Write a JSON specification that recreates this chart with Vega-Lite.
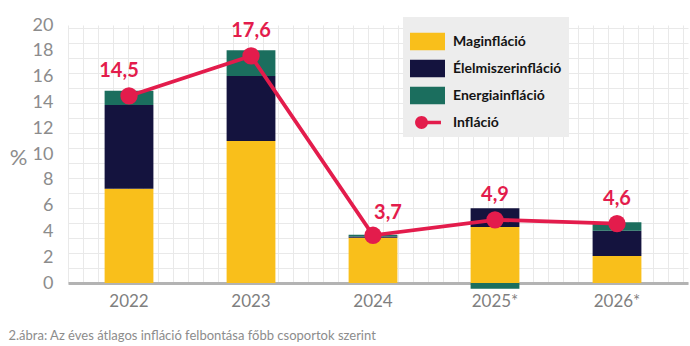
{
  "$schema": "https://vega.github.io/schema/vega-lite/v6.json",
  "width": 620,
  "height": 258,
  "autosize": {"type": "none"},
  "padding": {"left": 68, "top": 25, "right": 2, "bottom": 63},
  "background": "#ffffff",
  "config": {
    "view": {"stroke": null},
    "font": "Lato",
    "locale": {"number": {"decimal": ",", "thousands": " ", "grouping": [3], "currency": ["", " Ft"]}}
  },
  "datasets": {
    "bontas": [
      {"ev": "2022", "kat": "Maginfláció", "sor": 1, "ertek": 7.3},
      {"ev": "2022", "kat": "Élelmiszerinfláció", "sor": 2, "ertek": 6.5},
      {"ev": "2022", "kat": "Energiainfláció", "sor": 3, "ertek": 1.1},
      {"ev": "2023", "kat": "Maginfláció", "sor": 1, "ertek": 11.0},
      {"ev": "2023", "kat": "Élelmiszerinfláció", "sor": 2, "ertek": 5.05},
      {"ev": "2023", "kat": "Energiainfláció", "sor": 3, "ertek": 2.0},
      {"ev": "2024", "kat": "Maginfláció", "sor": 1, "ertek": 3.5},
      {"ev": "2024", "kat": "Élelmiszerinfláció", "sor": 2, "ertek": 0.1},
      {"ev": "2024", "kat": "Energiainfláció", "sor": 3, "ertek": 0.15},
      {"ev": "2025*", "kat": "Maginfláció", "sor": 1, "ertek": 4.35},
      {"ev": "2025*", "kat": "Élelmiszerinfláció", "sor": 2, "ertek": 1.45},
      {"ev": "2025*", "kat": "Energiainfláció", "sor": 3, "ertek": -0.45},
      {"ev": "2026*", "kat": "Maginfláció", "sor": 1, "ertek": 2.1},
      {"ev": "2026*", "kat": "Élelmiszerinfláció", "sor": 2, "ertek": 1.95},
      {"ev": "2026*", "kat": "Energiainfláció", "sor": 3, "ertek": 0.65}
    ],
    "inflacio": [
      {"ev": "2022", "ertek": 14.5},
      {"ev": "2023", "ertek": 17.6},
      {"ev": "2024", "ertek": 3.7},
      {"ev": "2025*", "ertek": 4.9},
      {"ev": "2026*", "ertek": 4.6}
    ]
  },
  "layer": [
    {
      "data": {"values": [{"g": 0}]},
      "mark": {"type": "point", "opacity": 0},
      "encoding": {
        "x": {"datum": 0, "type": "quantitative", "scale": {"domain": [0, 41.33], "nice": false, "zero": false},
          "axis": {"orient": "top", "title": null, "labels": false, "ticks": false, "domain": false, "grid": true, "gridColor": "#e9e9e9", "gridWidth": 1, "tickCount": 42}},
        "y": {"datum": 0, "type": "quantitative", "scale": {"domain": [0, 17.2], "nice": false, "zero": false},
          "axis": {"orient": "right", "title": null, "labels": false, "ticks": false, "domain": false, "grid": true, "gridColor": "#e9e9e9", "gridWidth": 1, "tickCount": 18}}
      }
    },
    {
      "encoding": {
        "x": {"field": "ev", "type": "nominal", "sort": null,
          "scale": {"paddingInner": 0.6, "paddingOuter": 0.341, "align": 0.44},
          "axis": {"orient": "bottom", "title": "2.ábra: Az éves átlagos infláció felbontása főbb csoportok szerint", "labelAngle": 0, "ticks": false, "grid": false,
            "domain": true, "domainColor": "#b3b3b3", "domainWidth": 3, "labelFontSize": 17, "labelColor": "#7f7f7f", "labelPadding": 10,
            "labelFont": "Lato", "titleFont": "Lato", "titleX": -60, "titleY": 52, "titleAlign": "left", "titleAnchor": "start", "titleBaseline": "middle",
            "titleFontSize": 13, "titleFontWeight": "normal", "titleColor": "#8c8c8c"}},
        "y": {"field": "ertek", "type": "quantitative",
          "scale": {"domain": [0, 20], "nice": false, "zero": true},
          "axis": {"orient": "left", "title": "%", "values": [0, 2, 4, 6, 8, 10, 12, 14, 16, 18, 20], "grid": false, "ticks": false, "domain": false,
            "labelOverlap": false, "labelBound": false, "labelFlush": false,
            "labelFontSize": 18, "labelColor": "#8c8c8c", "labelPadding": 15, "labelFont": "Lato", "format": "d",
            "titleAngle": 0, "titleFontSize": 22, "titleFontWeight": "normal", "titleColor": "#8c8c8c", "titleFont": "Lato",
            "titleX": -50, "titleY": 132, "titleAlign": "center", "titleBaseline": "middle"}}
      },
      "layer": [
        {
          "data": {"name": "bontas"},
          "mark": {"type": "bar"},
          "encoding": {
            "color": {"field": "kat", "type": "nominal",
              "scale": {"domain": ["Maginfláció", "Élelmiszerinfláció", "Energiainfláció", "Infláció"], "range": ["#f9bf1b", "#14133e", "#1b6e5e", "#e31c4c"]},
              "legend": {
                "title": null, "orient": "none", "legendX": 335, "legendY": -8, "fillColor": "#ededed", "padding": 7,
                "labelFont": "Lato", "labelFontWeight": "bold", "labelFontSize": 14, "labelColor": "#141414", "labelOffset": 8,
                "symbolSize": 1225, "symbolType": "M-1,-0.5H1V0.5H-1Z", "symbolStrokeWidth": 0, "rowPadding": 0,
                "encode": {"symbols": {"update": {
                  "shape": {"signal": "datum.value === 'Infláció' ? 'M-0.71,0A0.37,0.37 0 1,1 0.03,0A0.37,0.37 0 1,1 -0.71,0ZM-0.34,-0.1H0.77V0.1H-0.34Z' : 'M-1,-0.5H1V0.5H-1Z'"},
                  "fill": {"scale": "color", "field": "value"},
                  "stroke": {"value": "transparent"},
                  "opacity": {"value": 1},
                  "fillOpacity": {"value": 1}
                }}}
              }},
            "order": {"field": "sor", "type": "quantitative"}
          }
        },
        {
          "data": {"name": "inflacio"},
          "mark": {"type": "line", "strokeWidth": 3.8},
          "encoding": {"color": {"datum": "Infláció"}}
        },
        {
          "data": {"name": "inflacio"},
          "mark": {"type": "circle", "size": 300, "opacity": 1},
          "encoding": {"color": {"datum": "Infláció"}}
        },
        {
          "data": {"name": "inflacio"},
          "transform": [{"filter": "datum.ev === '2023' || datum.ev === '2025*' || datum.ev === '2026*'"}],
          "mark": {"type": "text", "font": "Lato", "fontWeight": "bold", "fontSize": 20, "color": "#e31c4c", "dy": -25},
          "encoding": {"text": {"field": "ertek", "type": "quantitative", "format": ".1f"}}
        },
        {
          "data": {"name": "inflacio"},
          "transform": [{"filter": "datum.ev === '2022'"}],
          "mark": {"type": "text", "font": "Lato", "fontWeight": "bold", "fontSize": 20, "color": "#e31c4c", "dy": -25, "dx": -10},
          "encoding": {"text": {"field": "ertek", "type": "quantitative", "format": ".1f"}}
        },
        {
          "data": {"name": "inflacio"},
          "transform": [{"filter": "datum.ev === '2024'"}],
          "mark": {"type": "text", "font": "Lato", "fontWeight": "bold", "fontSize": 20, "color": "#e31c4c", "dy": -22, "dx": 15},
          "encoding": {"text": {"field": "ertek", "type": "quantitative", "format": ".1f"}}
        }
      ]
    }
  ],
  "resolve": {"scale": {"x": "independent", "y": "independent"}, "axis": {"x": "independent", "y": "independent"}}
}
